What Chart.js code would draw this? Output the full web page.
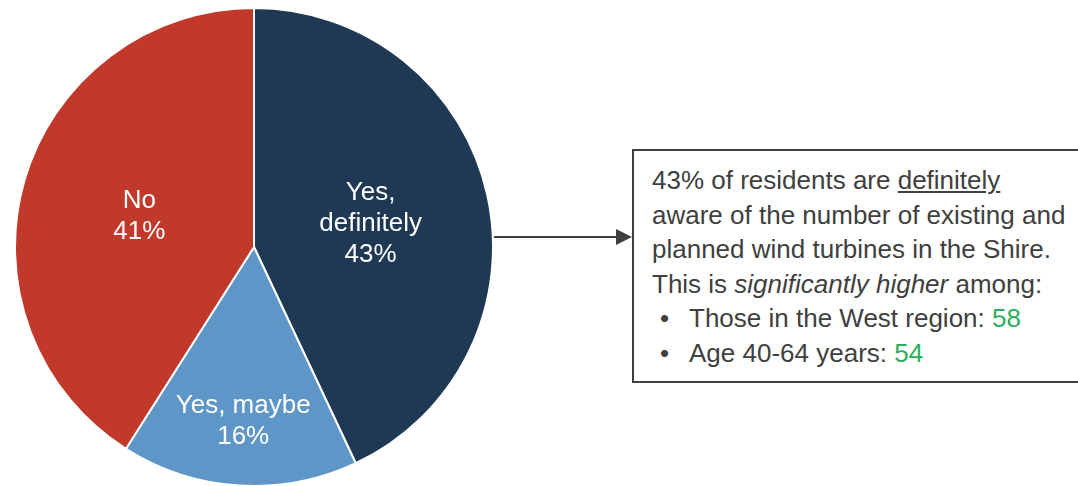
<!DOCTYPE html>
<html>
<head>
<meta charset="utf-8">
<script src="https://cdn.jsdelivr.net/npm/chart.js@4.4.1/dist/chart.umd.min.js"></script>
<style>
  html, body { margin: 0; padding: 0; background: #fff; overflow: hidden; }
  body { width: 1078px; height: 486px; position: relative; font-family: "Liberation Sans", Arial, sans-serif; }
  #pieWrap { position: absolute; left: 14px; top: 7px; width: 480px; height: 480px; }
  #arrow { position: absolute; left: 494px; top: 236px; width: 124px; height: 2px; background: #404040; }
  #arrowHead { position: absolute; left: 616px; top: 229px; width: 0; height: 0;
    border-top: 8px solid transparent; border-bottom: 8px solid transparent; border-left: 16px solid #404040; }
  #note { position: absolute; left: 632px; top: 149px; width: 460px; height: 234px; border: 2px solid #404040;
    box-sizing: border-box; padding: 12px 0 0 18px; color: #404040; font-size: 26px; line-height: 34.6px; white-space: nowrap; }
  #note ul { margin: 0; padding: 0; list-style: none; }
  #note li { position: relative; padding-left: 37px; }
  #note li:before { content: "\2022"; position: absolute; left: 8px; }
  .g { color: #2bae5c; }
</style>
</head>
<body>
<div id="pieWrap"><canvas id="pie"></canvas></div>
<div id="arrow"></div>
<div id="arrowHead"></div>
<div id="note">
  43% of residents are <u>definitely</u><br>
  aware of the number of existing and<br>
  planned wind turbines in the Shire.<br>
  This is <i>significantly higher</i> among:
  <ul>
    <li>Those in the West region: <span class="g">58</span></li>
    <li>Age 40-64 years: <span class="g">54</span></li>
  </ul>
</div>
<script>
const labels = ['Yes, definitely', 'Yes, maybe', 'No'];
const values = [43, 16, 41];
const colors = ['#1f3854', '#5f96c8', '#c0392b'];

// writes "name \n value%" inside each slice
const sliceLabels = {
  id: 'sliceLabels',
  afterDatasetsDraw(chart, args, opts) {
    const { ctx } = chart;
    const arcs = chart.getDatasetMeta(0).data;
    ctx.save();
    ctx.fillStyle = '#fff';
    ctx.textAlign = 'center';
    ctx.textBaseline = 'middle';
    ctx.font = '26px "Liberation Sans", Arial, sans-serif';
    arcs.forEach((arc, i) => {
      const p = arc.getProps(['x', 'y', 'startAngle', 'endAngle', 'outerRadius']);
      const mid = (p.startAngle + p.endAngle) / 2;
      const r = p.outerRadius * opts.dist[i];
      const cx = p.x + Math.cos(mid) * r;
      const cy = p.y + Math.sin(mid) * r + 3;
      const lines = opts.lines[i].concat([values[i] + '%']);
      const lh = 31;
      lines.forEach((t, k) => {
        ctx.fillText(t, cx, cy + (k - (lines.length - 1) / 2) * lh);
      });
    });
    ctx.restore();
  }
};

new Chart(document.getElementById('pie'), {
  type: 'pie',
  data: {
    labels: labels,
    datasets: [{
      data: values,
      backgroundColor: colors,
      borderColor: '#fff',
      borderWidth: 2
    }]
  },
  options: {
    responsive: true,
    maintainAspectRatio: false,
    animation: false,
    layout: { padding: 0 },
    plugins: {
      legend: { display: false },
      tooltip: { enabled: false },
      sliceLabels: {
        dist: [0.5, 0.72, 0.5],
        lines: [['Yes,', 'definitely'], ['Yes, maybe'], ['No']]
      }
    }
  },
  plugins: [sliceLabels]
});
</script>
</body>
</html>
